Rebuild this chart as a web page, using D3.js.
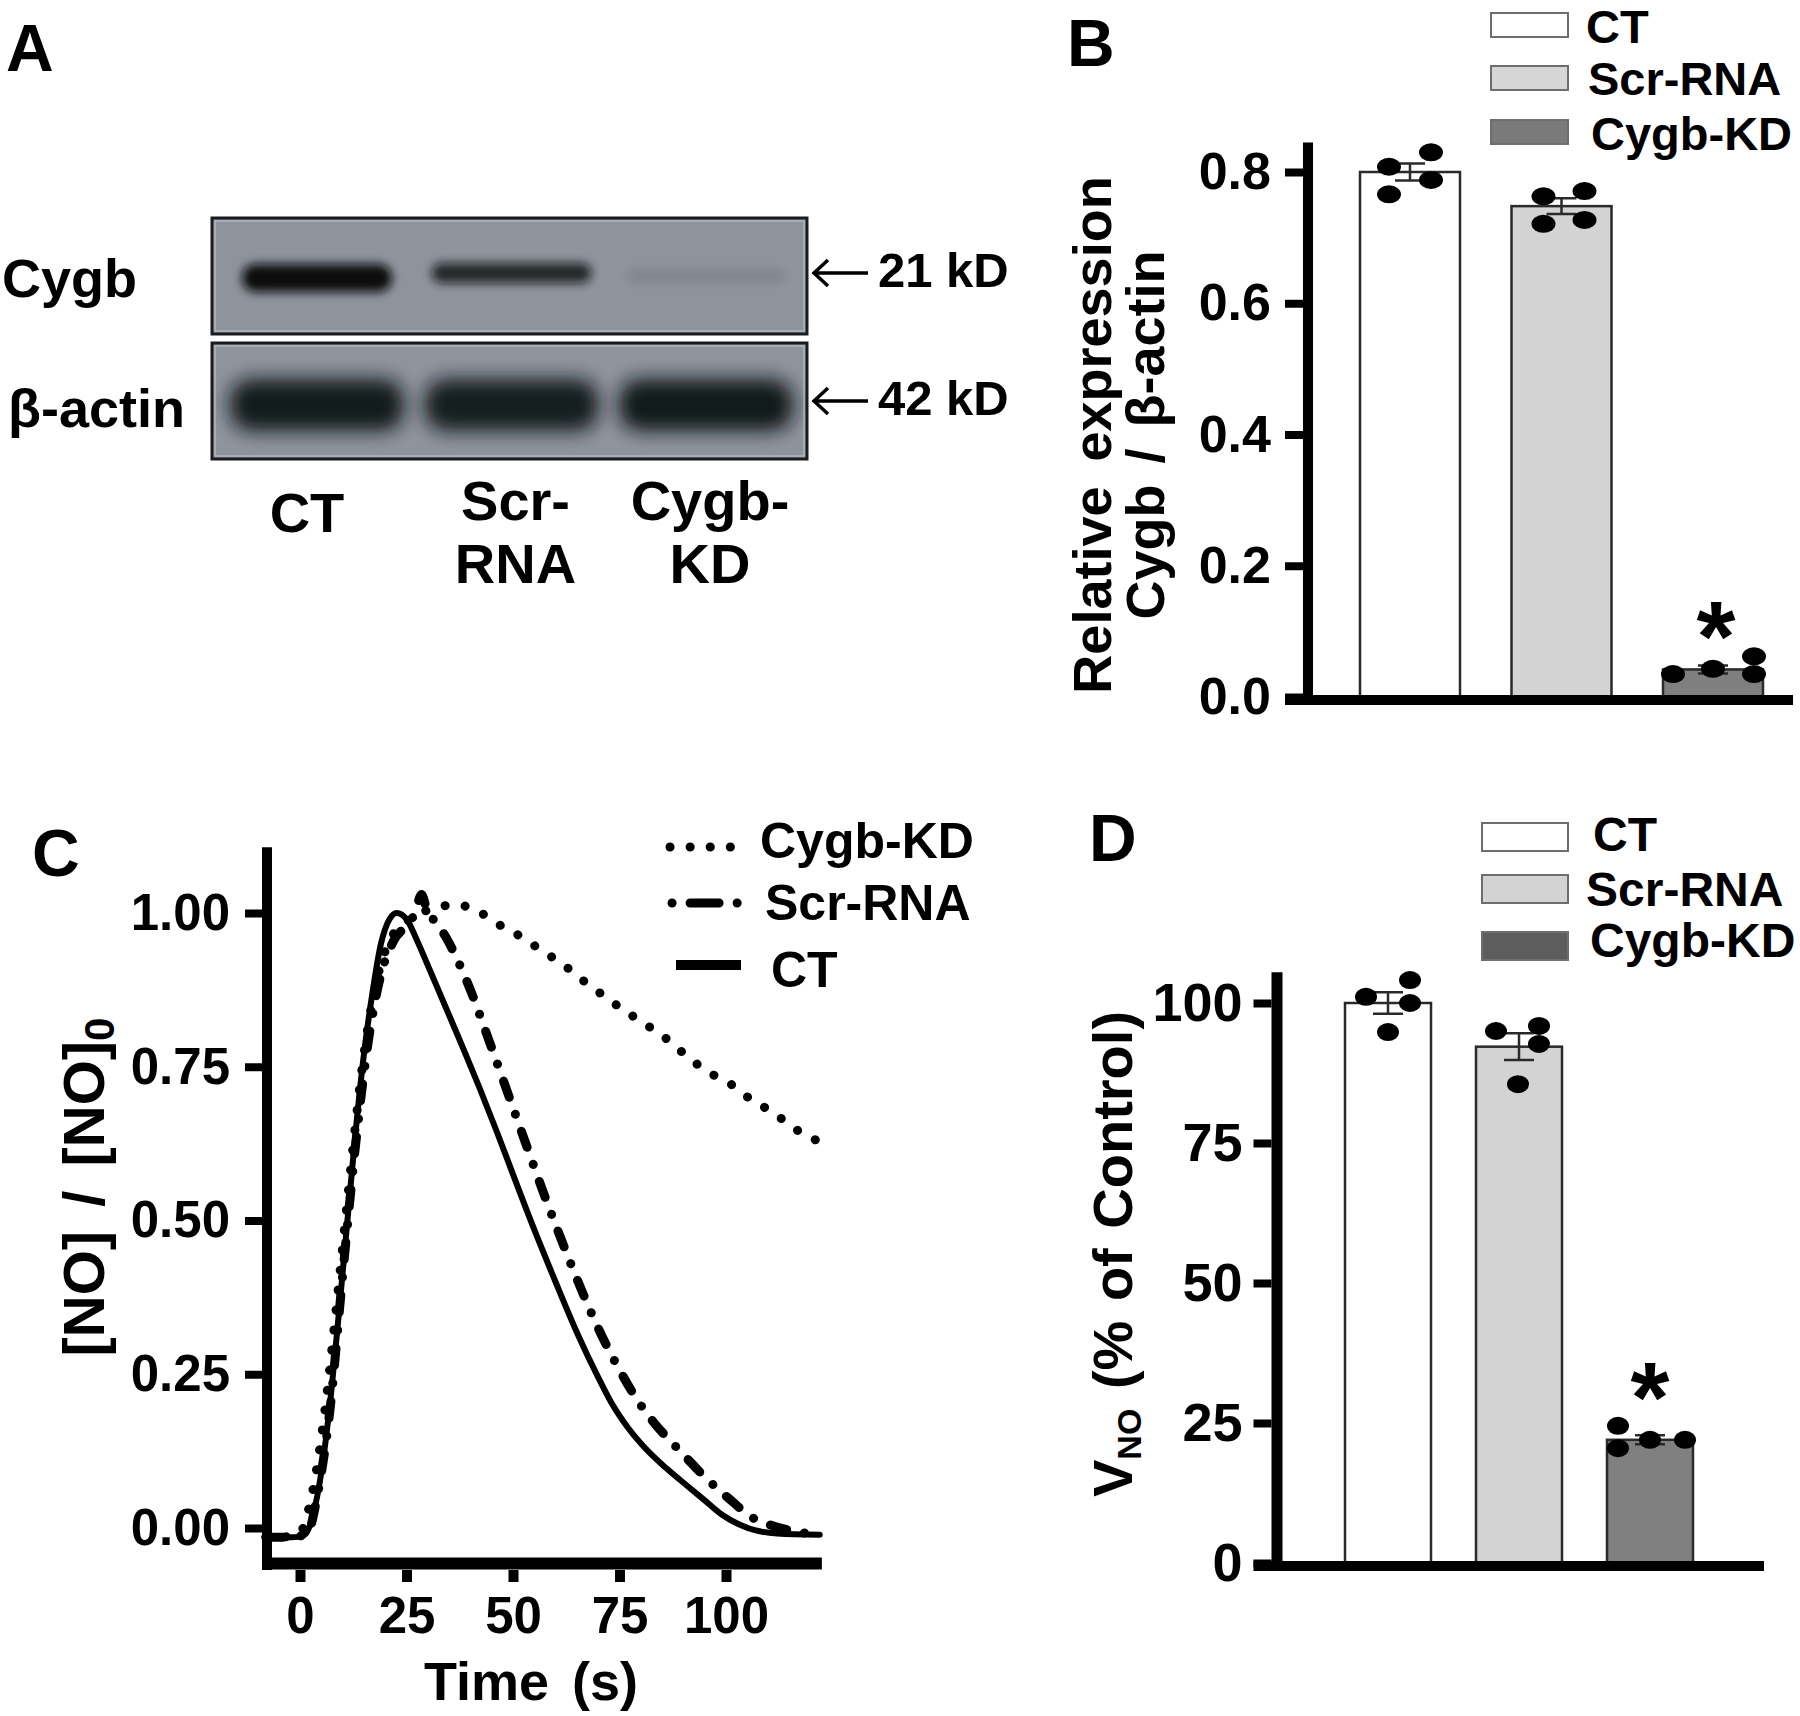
<!DOCTYPE html>
<html><head><meta charset="utf-8">
<script src="https://cdn.jsdelivr.net/npm/d3@7"></script>
<style>
html,body{margin:0;padding:0;background:#fff;}
svg text{font-family:"Liberation Sans",Arial,Helvetica,sans-serif;font-weight:bold;fill:#000;}
</style></head><body>
<svg id="fig" width="1800" height="1716" xmlns="http://www.w3.org/2000/svg"></svg>
<script>
// ================= DATA =================
const groups = ["CT", "Scr-RNA", "Cygb-KD"];
const laneLabels = [["CT"], ["Scr-", "RNA"], ["Cygb-", "KD"]];
const blotRows = ["Cygb", "β-actin"];
const blotMarkers = ["21 kD", "42 kD"];
const cygbBandIntensity = [1.0, 0.8, 0.1];
const actinBandIntensity = [0.95, 0.93, 0.96];

const bMeans = [0.800, 0.748, 0.042];
const bSem = [0.013, 0.012, 0.006];
const bPoints = [[0.808, 0.830, 0.788, 0.766], [0.763, 0.771, 0.721, 0.727], [0.035, 0.043, 0.062, 0.035]];
const bTicks = [0, 0.2, 0.4, 0.6, 0.8];

const dMeans = [100, 92.2, 22.0];
const dSem = [1.9, 2.4, 0.8];
const dPoints = [[101.1, 104.1, 100, 94.8], [95, 95.9, 92.7, 85.5], [24.5, 20.5, 22, 22]];
const dTicks = [0, 25, 50, 75, 100];

const cXTicks = [0, 25, 50, 75, 100];
const cYTicks = [0, 0.25, 0.5, 0.75, 1.0];
const ctCurve = [[-8,-0.015],[-5,-0.015],[-2,-0.015],[0,-0.014],[1.5,-0.008],[3,0.02],[5,0.09],[7,0.2],[9,0.34],[11,0.49],[13,0.64],[15,0.77],[17,0.87],[19,0.95],[21,0.99],[22.7,1.0],[25,0.99],[27.5,0.955],[30,0.915],[34,0.85],[38,0.785],[42,0.718],[46,0.648],[50,0.575],[55,0.485],[60,0.4],[65,0.318],[70,0.245],[73,0.205],[77,0.163],[81,0.13],[86,0.097],[91,0.068],[95,0.045],[99,0.022],[103,0.006],[107,-0.004],[112,-0.009],[122,-0.011]];
const scrCurve = [[-8,-0.015],[-3,-0.015],[0,-0.013],[2,-0.005],[4,0.05],[7,0.19],[10,0.41],[13,0.62],[16,0.79],[19,0.9],[22,0.955],[25,0.98],[27,1.0],[28.5,1.03],[30,1.0],[32,0.985],[34.3,0.96],[39.7,0.88],[44.4,0.792],[49,0.703],[53,0.625],[57,0.548],[61,0.475],[65,0.405],[70,0.325],[75,0.257],[79,0.21],[83,0.172],[88,0.134],[91,0.112],[94,0.09],[98,0.064],[102,0.04],[105,0.022],[110,0.006],[115,-0.004],[122,-0.011]];
const kdCurve = [[-8,-0.015],[-3,-0.014],[0,-0.008],[2,0.03],[4,0.1],[6,0.2],[9,0.39],[12,0.59],[15,0.77],[18,0.89],[21,0.955],[24,0.98],[27,0.995],[30,1.005],[32,1.01],[37,1.013],[42.5,1.0],[47,0.98],[52,0.961],[56.5,0.94],[62,0.915],[66.5,0.89],[71,0.867],[76,0.842],[82,0.815],[86.5,0.793],[91,0.766],[96,0.741],[101.5,0.72],[106,0.696],[111,0.676],[116,0.65],[121,0.631]];

// ================= SETUP =================
const svg = d3.select("#fig");
svg.append("rect").attr("width", 1800).attr("height", 1716).attr("fill", "#fff");
const FONT = '"Liberation Sans", Arial, Helvetica, sans-serif';
const defs = svg.append("defs");
defs.append("filter").attr("id", "blurS").attr("x", "-30%").attr("y", "-80%").attr("width", "160%").attr("height", "260%")
  .append("feGaussianBlur").attr("stdDeviation", 5);
defs.append("filter").attr("id", "blurL").attr("x", "-30%").attr("y", "-80%").attr("width", "160%").attr("height", "260%")
  .append("feGaussianBlur").attr("stdDeviation", 9);

function txt(g, x, y, s, size, anchor) {
  return g.append("text").attr("x", x).attr("y", y).attr("font-size", size)
    .attr("text-anchor", anchor || "start").text(s);
}
function styleAxis(g, size, tickW) {
  g.attr("font-family", FONT).attr("font-size", size).attr("font-weight", "bold");
  g.select(".domain").remove();
  g.selectAll(".tick line").attr("stroke", "#000").attr("stroke-width", tickW);
  g.selectAll(".tick text").attr("fill", "#000");
}

// ================= PANEL A : western blot =================
const A = svg.append("g");
txt(A, 6, 71, "A", 66);
const lane = d3.scalePoint().domain(groups).range([317, 706]);
const blotBoxes = [{y0: 218, y1: 334}, {y0: 343, y1: 459}];
const blotX0 = 212, blotX1 = 807;
blotBoxes.forEach((b, i) => {
  const cid = "clipBlot" + i;
  defs.append("clipPath").attr("id", cid).append("rect")
    .attr("x", blotX0).attr("y", b.y0).attr("width", blotX1 - blotX0).attr("height", b.y1 - b.y0);
  A.append("rect").attr("x", blotX0).attr("y", b.y0).attr("width", blotX1 - blotX0).attr("height", b.y1 - b.y0)
    .attr("fill", "#8e939c");
  const bg = A.append("g").attr("clip-path", `url(#${cid})`);
  const inten = i === 0 ? cygbBandIntensity : actinBandIntensity;
  groups.forEach((gname, k) => {
    const cx = lane(gname);
    if (i === 0) {
      const w = [150, 160, 158][k], h = [28, 20, 12][k], cy = [278, 273, 276][k];
      bg.append("rect").attr("x", cx - w / 2).attr("y", cy - h / 2).attr("width", w).attr("height", h)
        .attr("rx", h / 2).attr("fill", "#0b0c10").attr("opacity", inten[k]).attr("filter", "url(#blurS)");
    } else {
      const w = 174, h = 52, cy = 405;
      bg.append("rect").attr("x", cx - w / 2).attr("y", cy - h / 2).attr("width", w).attr("height", h)
        .attr("rx", 22).attr("fill", "#101216").attr("opacity", inten[k]).attr("filter", "url(#blurL)");
    }
  });
  A.append("rect").attr("x", blotX0 + 3).attr("y", b.y0 + 3).attr("width", blotX1 - blotX0 - 6).attr("height", b.y1 - b.y0 - 6)
    .attr("fill", "none").attr("stroke", "#b9bdc4").attr("stroke-width", 1.2);
  A.append("rect").attr("x", blotX0).attr("y", b.y0).attr("width", blotX1 - blotX0).attr("height", b.y1 - b.y0)
    .attr("fill", "none").attr("stroke", "#1b1c1f").attr("stroke-width", 3);
});
txt(A, 2, 297, blotRows[0], 54);
txt(A, 8, 427, blotRows[1], 54);
const markerY = [273, 401];
blotMarkers.forEach((m, i) => {
  const y = markerY[i];
  A.append("path").attr("d", `M814,${y}H868 M828,${y - 13}L814,${y}L828,${y + 13}`)
    .attr("fill", "none").attr("stroke", "#000").attr("stroke-width", 3.5).attr("stroke-linejoin", "miter");
  txt(A, 878, y + 14, m, 49);
});
const laneBase = [[532], [520, 583], [520, 583]];
groups.forEach((gname, k) => {
  laneLabels[k].forEach((s, j) => txt(A, lane(gname) + (k === 0 ? -10 : 4), laneBase[k][j], s, 56, "middle"));
});

// ================= bar chart helper =================
function barPanel(opt) {
  const g = svg.append("g");
  const y = d3.scaleLinear().domain([0, opt.topTick]).range([opt.y0, opt.yTop]);
  const x = d3.scalePoint().domain(groups).range(opt.xRange);
  g.selectAll("rect.bar").data(opt.means).join("rect").attr("class", "bar")
    .attr("x", (d, i) => x(groups[i]) - opt.bw / 2).attr("y", d => y(d))
    .attr("width", opt.bw).attr("height", d => y(0) - y(d))
    .attr("fill", (d, i) => opt.fills[i]).attr("stroke", "#2a2a2a").attr("stroke-width", 2.5);
  opt.means.forEach((m, i) => {
    const cx = x(groups[i]), s = opt.sem[i];
    g.append("path").attr("d", `M${cx},${y(m + s)}V${y(m - s)} M${cx - 15},${y(m + s)}H${cx + 15} M${cx - 15},${y(m - s)}H${cx + 15}`)
      .attr("stroke", "#2a2a2a").attr("stroke-width", 2.5).attr("fill", "none");
  });
  opt.points.forEach((pts, i) => {
    g.selectAll(null).data(pts).join("ellipse")
      .attr("cx", (d, j) => x(groups[i]) + opt.jitter[i][j]).attr("cy", d => y(d))
      .attr("rx", opt.rx).attr("ry", opt.ry).attr("fill", "#000");
  });
  g.append("text").attr("x", x(groups[2]) + opt.starDx).attr("y", y(opt.means[2]) + opt.starDy)
    .attr("font-size", 100).attr("text-anchor", "middle").text("*");
  const ax = g.append("g").attr("transform", `translate(${opt.axisX - opt.axisW / 2},0)`)
    .call(d3.axisLeft(y).tickValues(opt.ticks).tickSize(opt.tickLen).tickPadding(opt.tickPad).tickFormat(opt.fmt));
  styleAxis(ax, opt.tickFont, 8);
  g.append("line").attr("x1", opt.axisX).attr("x2", opt.axisX).attr("y1", y(opt.axisMax)).attr("y2", y(0) + 8)
    .attr("stroke", "#000").attr("stroke-width", opt.axisW);
  g.append("line").attr("x1", opt.axisX - opt.axisW / 2 - opt.tickLen).attr("x2", opt.xEnd)
    .attr("y1", y(0) + 3).attr("y2", y(0) + 3).attr("stroke", "#000").attr("stroke-width", 10);
  groups.forEach((gname, i) => {
    g.append("rect").attr("x", opt.legX).attr("y", opt.legY[i]).attr("width", opt.legW).attr("height", opt.legH)
      .attr("fill", opt.legFills[i]).attr("stroke", "#6e6e6e").attr("stroke-width", 2);
    txt(g, opt.legTX[i], opt.legTY[i], gname, opt.legFont || 48);
  });
  return {g, y, x};
}

// ================= PANEL B =================
const B = barPanel({
  means: bMeans, sem: bSem, points: bPoints, ticks: bTicks, topTick: 0.8, axisMax: 0.845,
  y0: 697, yTop: 172, xRange: [1410, 1713], bw: 100, axisX: 1308, axisW: 10, xEnd: 1793,
  tickLen: 18, tickPad: 14, tickFont: 52, fmt: d3.format(".1f"),
  fills: ["#ffffff", "#d3d3d3", "#7f7f7f"], rx: 12, ry: 9,
  jitter: [[-21, 21, 21, -21], [-18, 23, -18, 23], [-40, 0, 41, 41]],
  starDx: 3, starDy: 2,
  legX: 1491, legY: [13, 66, 120], legW: 77, legH: 24, legFills: ["#ffffff", "#d6d6d6", "#7a7a7a"],
  legTX: [1586, 1588, 1591], legTY: [43, 95, 150], legFont: 47
});
txt(B.g, 1067, 66, "B", 66);
B.g.append("text").attr("transform", "translate(1111,435) rotate(-90)").attr("text-anchor", "middle")
  .attr("font-size", 54).attr("word-spacing", 10).text("Relative expression");
B.g.append("text").attr("transform", "translate(1164,435) rotate(-90)").attr("text-anchor", "middle")
  .attr("font-size", 54).attr("word-spacing", 6).text("Cygb / β-actin");

// ================= PANEL D =================
const D = barPanel({
  means: dMeans, sem: dSem, points: dPoints, ticks: dTicks, topTick: 100, axisMax: 105.5,
  y0: 1563, yTop: 1003, xRange: [1388, 1650], bw: 86, axisX: 1277, axisW: 11, xEnd: 1764,
  tickLen: 18, tickPad: 11, tickFont: 54, fmt: d3.format("d"),
  fills: ["#ffffff", "#d3d3d3", "#808080"], rx: 11, ry: 9,
  jitter: [[-22, 22, 22, 0], [-23, 20, 20, -1], [-32, -32, 0, 35]],
  starDx: 0, starDy: -8,
  legX: 1482, legY: [823, 875, 932], legW: 86, legH: 28, legFills: ["#ffffff", "#d3d3d3", "#5d5d5d"],
  legTX: [1593, 1586, 1590], legTY: [851, 906, 957]
});
txt(D.g, 1089, 861, "D", 66);
const dl = D.g.append("text").attr("transform", "translate(1132,1254) rotate(-90)").attr("text-anchor", "middle")
  .attr("font-size", 56).attr("word-spacing", 4);
dl.append("tspan").text("V");
dl.append("tspan").attr("font-size", 34).attr("dy", 9).text("NO");
dl.append("tspan").attr("dy", -9).text(" (% of Control)");

// ================= PANEL C =================
const C = svg.append("g");
txt(C, 32, 876, "C", 66);
const xC = d3.scaleLinear().domain([0, 100]).range([300, 726]);
const yC = d3.scaleLinear().domain([0, 1]).range([1528, 913]);
const line = d3.line().x(d => xC(d[0])).y(d => yC(d[1])).curve(d3.curveMonotoneX);
const styles = {
  kd: {w: 9, dash: "0.1 20"},
  scr: {w: 9, dash: "17 18 0.1 18"},
  ct: {w: 6, dash: null}
};
function drawCurve(data, st) {
  const p = C.append("path").datum(data).attr("d", line).attr("fill", "none").attr("stroke", "#000")
    .attr("stroke-width", st.w).attr("stroke-linecap", "round").attr("stroke-linejoin", "round");
  if (st.dash) p.attr("stroke-dasharray", st.dash);
}
drawCurve(ctCurve, styles.ct);
drawCurve(scrCurve, styles.scr);
drawCurve(kdCurve, styles.kd);

const axY = C.append("g").attr("transform", "translate(262,0)")
  .call(d3.axisLeft(yC).tickValues(cYTicks).tickSize(17).tickPadding(15).tickFormat(d3.format(".2f")));
styleAxis(axY, 51, 8);
const axX = C.append("g").attr("transform", "translate(0,1570)")
  .call(d3.axisBottom(xC).tickValues(cXTicks).tickSize(12).tickPadding(15).tickFormat(d3.format("d")));
styleAxis(axX, 51, 10);
C.append("line").attr("x1", 267).attr("x2", 267).attr("y1", yC(1.107)).attr("y2", 1570)
  .attr("stroke", "#000").attr("stroke-width", 10);
C.append("line").attr("x1", 262).attr("x2", xC(122.5)).attr("y1", 1563.5).attr("y2", 1563.5)
  .attr("stroke", "#000").attr("stroke-width", 12);
const yl = C.append("text").attr("transform", "translate(104,1187) rotate(-90)").attr("text-anchor", "middle")
  .attr("font-size", 58).attr("word-spacing", 8);
yl.append("tspan").text("[NO] / [NO]");
yl.append("tspan").attr("font-size", 42).attr("dy", 10).text("0");
C.append("text").attr("x", 531).attr("y", 1700).attr("text-anchor", "middle").attr("font-size", 54)
  .attr("word-spacing", 8).text("Time (s)");

// legend C
const legC = [
  {name: "Cygb-KD", st: styles.kd, y: 847, x0: 670, x1: 733, tx: 760, ty: 858},
  {name: "Scr-RNA", st: {w: 9, dash: "0.1 18 29 18 0.1 100"}, y: 903, x0: 672, x1: 740, tx: 765, ty: 920},
  {name: "CT", st: {w: 10, dash: null}, y: 965, x0: 676, x1: 741, tx: 771, ty: 987}
];
legC.forEach(l => {
  const p = C.append("line").attr("x1", l.x0).attr("x2", l.x1).attr("y1", l.y).attr("y2", l.y)
    .attr("stroke", "#000").attr("stroke-width", l.st.w).attr("stroke-linecap", l.st.dash ? "round" : "butt");
  if (l.st.dash) p.attr("stroke-dasharray", l.st.dash);
  txt(C, l.tx, l.ty, l.name, 50);
});
</script>
</body></html>
